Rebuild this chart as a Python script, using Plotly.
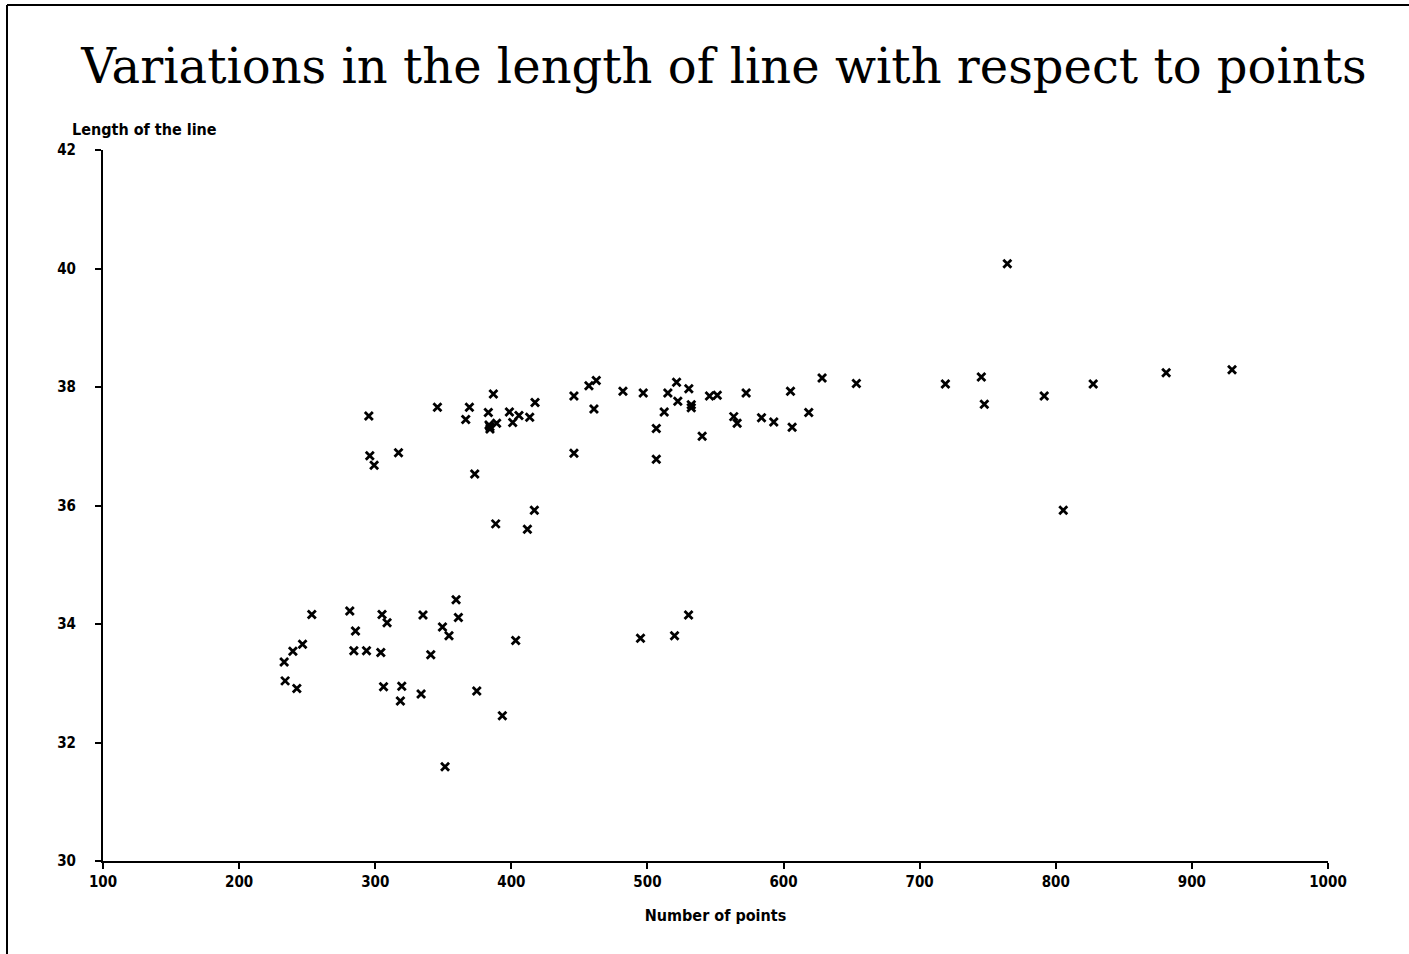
import plotly.graph_objects as go

# Number of points per sample and the measured length of the line
num_points = [
    295.3, 345.7, 369.2, 366.5, 386.8, 383.1, 398.6, 405.6, 417.4, 413.5,
    401.0, 389.2, 383.6, 384.3, 384.3, 296.0, 299.2, 317.1, 373.1, 416.9,
    388.5, 411.8, 446.0, 457.0, 462.4, 460.7, 446.0, 482.0, 496.9, 515.0,
    521.4, 530.4, 522.3, 532.2, 532.2, 512.3, 506.5, 506.5, 540.2, 545.6,
    551.3, 572.5, 563.4, 565.9, 583.8, 592.8, 605.1, 606.3, 618.5, 628.3,
    653.5, 718.9, 745.3, 747.5, 764.4, 791.5, 805.5, 827.5, 881.1, 929.5,
    253.4, 281.3, 305.0, 308.7, 335.1, 359.4, 361.1, 349.4, 354.2, 285.5,
    246.6, 239.5, 233.1, 284.3, 293.6, 304.1, 340.8, 403.2, 233.8, 242.4,
    306.1, 319.5, 318.5, 333.7, 374.6, 393.4, 351.3, 494.9, 519.9, 530.2,
]
line_length = [
    37.51, 37.66, 37.66, 37.45, 37.88, 37.57, 37.58, 37.52, 37.74, 37.49,
    37.40, 37.39, 37.36, 37.33, 37.29, 36.84, 36.68, 36.89, 36.53, 35.92,
    35.69, 35.60, 37.85, 38.02, 38.11, 37.63, 36.88, 37.93, 37.90, 37.90,
    38.08, 37.97, 37.76, 37.70, 37.65, 37.58, 37.30, 36.78, 37.17, 37.85,
    37.86, 37.90, 37.50, 37.39, 37.48, 37.41, 37.93, 37.32, 37.57, 38.15,
    38.06, 38.05, 38.17, 37.71, 40.08, 37.85, 35.92, 38.05, 38.24, 38.29,
    34.16, 34.22, 34.16, 34.02, 34.15, 34.41, 34.11, 33.95, 33.80, 33.88,
    33.66, 33.54, 33.36, 33.55, 33.55, 33.52, 33.48, 33.72, 33.04, 32.91,
    32.94, 32.95, 32.70, 32.82, 32.87, 32.45, 31.59, 33.76, 33.80, 34.15,
]

x_ticks = [100, 200, 300, 400, 500, 600, 700, 800, 900, 1000]
y_ticks = [30, 32, 34, 36, 38, 40, 42]

title_text = "Variations in the length of line with respect to points"
x_title = "Number of points"
y_title = "Length of the line"

label_family = "DejaVu Sans Condensed, Liberation Sans Narrow, Roboto, sans-serif"
tick_font = dict(family=label_family, size=15, color="black", weight="bold")
caption_font = dict(family=label_family, size=16, color="black", weight="bold")

fig = go.Figure(
    go.Scatter(
        x=num_points,
        y=line_length,
        mode="markers",
        marker=dict(symbol="x-thin", size=8, color="black",
                    line=dict(color="black", width=2.8)),
        showlegend=False,
    )
)

W, H = 1409, 954
L, R, T, B = 103, 81, 150, 93
pw, ph = W - L - R, H - T - B


def px_to_paper(px, py):
    return (px - L) / pw, (H - B - py) / ph


fig.update_layout(
    width=W,
    height=H,
    margin=dict(l=L, r=R, t=T, b=B),
    paper_bgcolor="white",
    plot_bgcolor="white",
    title=dict(
        text=title_text,
        font=dict(family="DejaVu Serif, serif", size=48, color="black"),
        x=724 / W, xanchor="center",
        y=1 - 66 / H, yanchor="middle",
        xref="container", yref="container",
    ),
    xaxis=dict(
        range=[100, 1000],
        tickvals=x_ticks,
        ticktext=[str(v) for v in x_ticks],
        showgrid=False,
        zeroline=False,
        showline=True,
        linecolor="black",
        linewidth=2,
        ticks="outside",
        ticklen=6,
        tickwidth=2,
        tickcolor="black",
        tickfont=tick_font,
        title=dict(text=x_title, font=caption_font, standoff=20),
    ),
    yaxis=dict(
        range=[30, 42],
        tickvals=y_ticks,
        ticktext=[str(v) for v in y_ticks],
        showgrid=False,
        zeroline=False,
        showline=True,
        linecolor="black",
        linewidth=2,
        ticks="outside",
        ticklen=6,
        tickwidth=2,
        tickcolor="black",
        tickfont=tick_font,
        ticklabelstandoff=16,
    ),
)

# y-axis caption placed above the axis, left aligned
ax, ay = px_to_paper(70, 130)
fig.add_annotation(
    text=y_title, xref="paper", yref="paper", x=ax, y=ay,
    xanchor="left", yanchor="middle", showarrow=False, font=caption_font,
)

# frame along the top and left edges of the page
x0, y_top = px_to_paper(7, 5)
x1, y_bot = px_to_paper(W, H)
fig.add_shape(type="line", xref="paper", yref="paper",
              x0=x0, y0=y_top, x1=x1, y1=y_top,
              line=dict(color="black", width=2))
fig.add_shape(type="line", xref="paper", yref="paper",
              x0=x0, y0=y_top, x1=x0, y1=y_bot,
              line=dict(color="black", width=2))

fig.write_html("out.html")
